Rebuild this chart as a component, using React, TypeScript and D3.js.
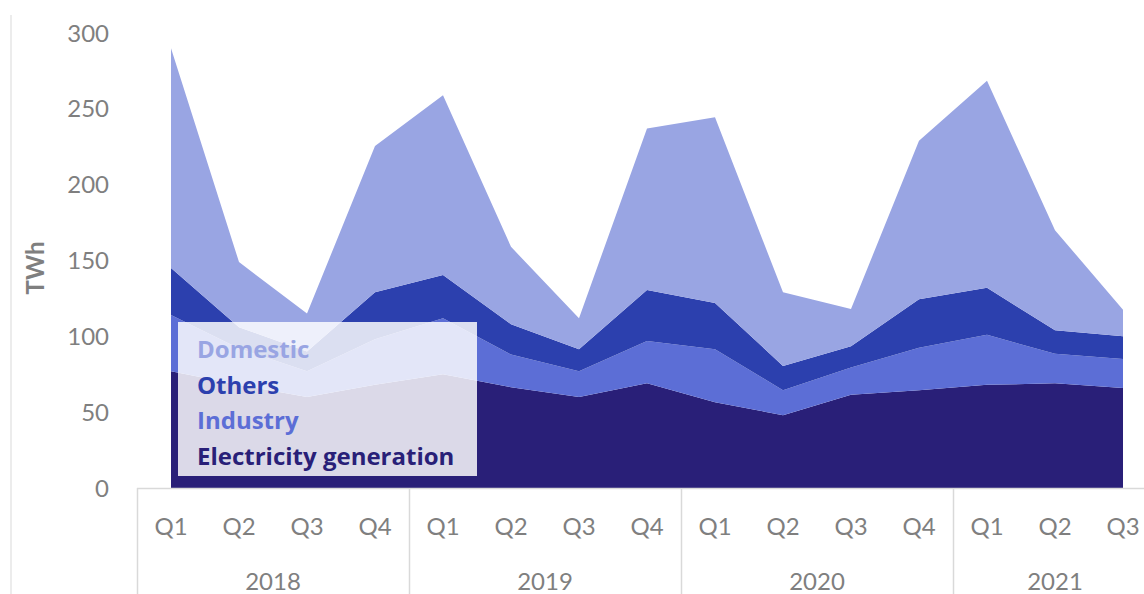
import React from 'react';
import * as d3 from 'd3';

const quarters = ['Q1','Q2','Q3','Q4','Q1','Q2','Q3','Q4','Q1','Q2','Q3','Q4','Q1','Q2','Q3'];
const yearOfPoint = ['2018','2018','2018','2018','2019','2019','2019','2019','2020','2020','2020','2020','2021','2021','2021'];
const years = ['2018','2019','2020','2021'];

const electricity = [77, 68, 60, 68, 75, 66.5, 60, 69, 56.5, 48, 61.5, 64.5, 68, 69, 66];
const industry = [37, 24, 17, 30, 37, 21.5, 17, 28, 35, 16.5, 18, 28, 33, 19.5, 19];
const others = [31, 14, 13, 31, 28.5, 20, 14.5, 33.5, 30.5, 16, 14, 32, 31, 15.5, 15];
const domestic = [145, 43, 25, 96.5, 118.5, 51, 20.5, 106.5, 122.5, 48.5, 24.5, 104.5, 136.5, 66, 17.5];

const yTicks = [0, 50, 100, 150, 200, 250, 300];

const seriesKeys = ['Electricity generation', 'Industry', 'Others', 'Domestic'];
const seriesColors: Record<string, string> = {
  'Electricity generation': '#291F78',
  'Industry': '#5C6ED6',
  'Others': '#2C40AE',
  'Domestic': '#99A5E3',
};
const legendOrder = ['Domestic', 'Others', 'Industry', 'Electricity generation'];

const W = 1144, H = 594;
const FONT = 'Lato, "Open Sans", sans-serif';
const LEGEND_FONT = '"Open Sans", Lato, sans-serif';
const GRAY = '#7F7F7F';
const LINE = '#D9D9D9';

export default function App() {
  const table = quarters.map((q, i) => ({
    idx: String(i),
    'Electricity generation': electricity[i],
    'Industry': industry[i],
    'Others': others[i],
    'Domestic': domestic[i],
  }));

  const x = d3.scaleBand<string>()
    .domain(table.map(d => d.idx))
    .range([137, 137 + 68 * quarters.length])
    .paddingInner(0).paddingOuter(0);
  const cx = (i: string) => (x(i) as number) + x.bandwidth() / 2;
  const y = d3.scaleLinear().domain([0, 300]).range([488, 33]);

  const stack = d3.stack<any>().keys(seriesKeys);
  const layers = stack(table as any);
  const area = d3.area<any>()
    .x(d => cx(d.data.idx))
    .y0(d => y(d[0]))
    .y1(d => y(d[1]));

  const yearGroups = years.map(yr => {
    const idxs = yearOfPoint.map((v, i) => (v === yr ? i : -1)).filter(i => i >= 0);
    const start = x(String(idxs[0])) as number;
    const end = (x(String(idxs[idxs.length - 1])) as number) + x.bandwidth();
    return { yr, start, end };
  });

  return (
    <svg width={W} height={H} style={{ position: 'absolute', left: 0, top: 0, display: 'block', background: '#fff' }}>
      <line x1={11} x2={11} y1={15} y2={H} stroke={LINE} strokeWidth={1} />

      {layers.map(layer => (
        <path key={layer.key} d={area(layer as any) as string} fill={seriesColors[layer.key]} />
      ))}

      {yTicks.map(t => (
        <text key={t} x={109} y={y(t)} dy="0.36em" textAnchor="end" fontFamily={FONT} fontSize={24} fill={GRAY}>{t}</text>
      ))}
      <text transform={`translate(44,268) rotate(-90)`} textAnchor="middle" fontFamily={FONT} fontSize={24} fontWeight="bold" fill={GRAY}>TWh</text>

      <line x1={137} x2={W} y1={488.5} y2={488.5} stroke={LINE} strokeWidth={1.5} />
      {yearGroups.map(g => (
        <line key={'sep' + g.yr} x1={g.start + 0.5} x2={g.start + 0.5} y1={488} y2={H} stroke={LINE} strokeWidth={1.5} />
      ))}
      {table.map((d, i) => (
        <text key={'q' + i} x={cx(d.idx)} y={535} textAnchor="middle" fontFamily={FONT} fontSize={24} fill={GRAY}>{quarters[i]}</text>
      ))}
      {yearGroups.map(g => (
        <text key={'y' + g.yr} x={(g.start + g.end) / 2} y={590} textAnchor="middle" fontFamily={FONT} fontSize={24} fill={GRAY}>{g.yr}</text>
      ))}

      <rect x={178} y={322} width={299} height={154} fill="#FFFFFF" fillOpacity={0.83} />
      {legendOrder.map((k, i) => (
        <text key={k} x={197} y={358 + i * 35.5} fontFamily={LEGEND_FONT} fontSize={24} fontWeight="bold" fill={seriesColors[k]}>{k}</text>
      ))}
    </svg>
  );
}
